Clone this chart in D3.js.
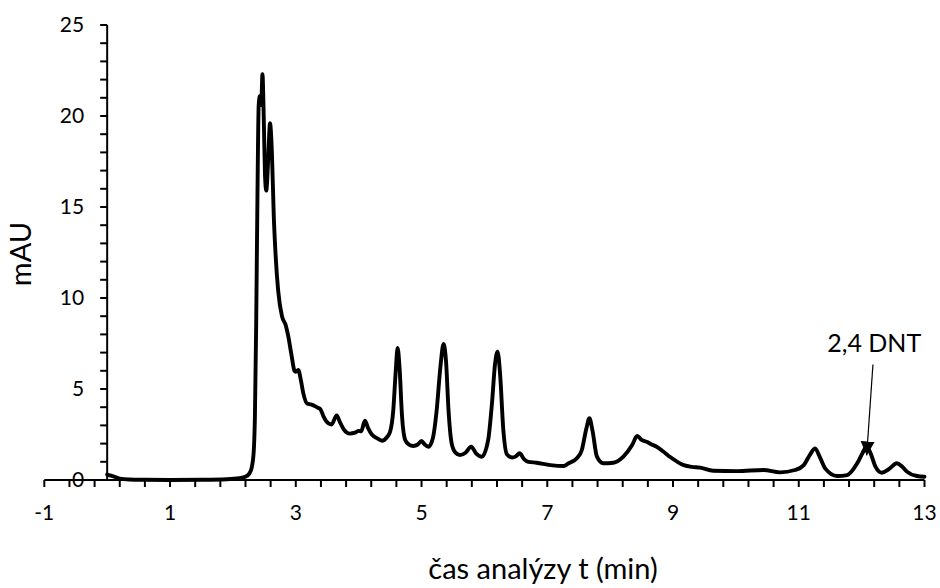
<!DOCTYPE html>
<html>
<head>
<meta charset="utf-8">
<script src="https://cdn.jsdelivr.net/npm/d3@7"></script>
<style>
  html, body { margin: 0; padding: 0; background: #fff; }
  svg { display: block; font-family: Lato, "Open Sans", sans-serif; }
</style>
</head>
<body>
<svg id="chart" width="940" height="588"></svg>
<script>
// Chromatogram: retention time (min) and detector signal (mAU)
const times = [
  0.00, 0.10, 0.20, 0.35, 0.60, 1.00, 1.50, 1.90, 2.10, 2.20,
  2.26, 2.30, 2.33, 2.35, 2.37, 2.39, 2.41, 2.43, 2.45, 2.47,
  2.49, 2.51, 2.53, 2.56, 2.59, 2.62, 2.65, 2.68, 2.72, 2.78,
  2.84, 2.88, 2.93, 2.98, 3.00, 3.04, 3.08, 3.12, 3.18, 3.24,
  3.30, 3.35, 3.39, 3.44, 3.48, 3.57, 3.65, 3.70, 3.76, 3.86,
  3.94, 4.00, 4.04, 4.10, 4.15, 4.21, 4.29, 4.37, 4.45, 4.50,
  4.55, 4.59, 4.62, 4.65, 4.69, 4.74, 4.80, 4.87, 4.94, 5.00,
  5.05, 5.11, 5.18, 5.24, 5.30, 5.35, 5.39, 5.43, 5.48, 5.54,
  5.61, 5.70, 5.79, 5.87, 5.96, 6.06, 6.12, 6.17, 6.21, 6.25,
  6.30, 6.36, 6.44, 6.50, 6.56, 6.63, 6.70, 6.83, 7.05, 7.26,
  7.34, 7.47, 7.55, 7.62, 7.67, 7.72, 7.79, 7.89, 8.05, 8.21,
  8.35, 8.43, 8.50, 8.58, 8.66, 8.74, 8.85, 8.95, 9.17, 9.30,
  9.43, 9.64, 10.02, 10.44, 10.70, 10.94, 11.08, 11.18, 11.26, 11.33,
  11.42, 11.61, 11.77, 11.93, 12.01, 12.08, 12.15, 12.22, 12.32, 12.43,
  12.56, 12.64, 12.72, 12.88, 13.00
];
const signal = [
  0.30, 0.20, 0.08, 0.03, 0.01, 0.00, 0.01, 0.04, 0.10, 0.18,
  0.35, 0.70, 1.50, 3.50, 8.50, 15.5, 20.6, 21.1, 20.6, 22.3,
  20.0, 16.8, 15.9, 17.5, 19.6, 18.0, 14.5, 12.3, 10.4, 9.00,
  8.50, 7.90, 6.90, 6.00, 5.95, 6.05, 5.50, 4.76, 4.20, 4.15,
  4.07, 3.97, 3.90, 3.50, 3.25, 3.05, 3.55, 3.20, 2.80, 2.55,
  2.60, 2.70, 2.68, 3.26, 2.85, 2.50, 2.30, 2.16, 2.35, 2.65,
  3.80, 6.00, 7.25, 6.20, 3.50, 2.20, 1.95, 1.87, 1.95, 2.14,
  1.95, 1.83, 2.30, 3.80, 6.20, 7.47, 6.50, 3.80, 2.00, 1.50,
  1.37, 1.50, 1.83, 1.45, 1.28, 2.20, 4.20, 6.40, 7.05, 5.80,
  2.80, 1.40, 1.24, 1.30, 1.47, 1.15, 1.00, 0.95, 0.82, 0.77,
  0.92, 1.19, 1.65, 2.80, 3.39, 2.70, 1.28, 0.92, 0.95, 1.28,
  1.92, 2.42, 2.20, 2.10, 1.95, 1.83, 1.55, 1.28, 0.82, 0.72,
  0.68, 0.51, 0.49, 0.55, 0.42, 0.55, 0.82, 1.40, 1.74, 1.30,
  0.64, 0.22, 0.27, 0.92, 1.45, 1.85, 1.40, 0.73, 0.40, 0.59,
  0.92, 0.75, 0.46, 0.22, 0.18
];

// Axis ticks
const xTickLabels = [-1, 1, 3, 5, 7, 9, 11, 13];
const yTickLabels = [0, 5, 10, 15, 20, 25];

// Annotated compound: name, retention time, arrow tip / tail values
const peakName = ["2,4 DNT"];
const peakTime = [12.08];
const arrowTip = [1.35];
const arrowTail = [6.35];
const labelAt = [12.2, 7.05];

const svg = d3.select("#chart");
const x = d3.scaleLinear().domain([-1, 13]).range([44.3, 924.5]);
const y = d3.scaleLinear().domain([0, 25]).range([480, 25]);

const axisColor = "#000";

// x axis (at mAU = 0), major ticks every 2, minor every 0.4
const xMinor = d3.range(0, 36).map(i => -1 + i * 0.4);
const gx = svg.append("g").attr("transform", `translate(0,${y(0)})`);
gx.append("line").attr("x1", x(-1)).attr("x2", x(13))
  .attr("stroke", axisColor).attr("stroke-width", 2);
gx.selectAll("line.tick").data(xMinor).join("line")
  .attr("class", "tick")
  .attr("x1", d => x(d)).attr("x2", d => x(d))
  .attr("y1", 0).attr("y2", 7)
  .attr("stroke", axisColor).attr("stroke-width", 2);
gx.selectAll("text").data(xTickLabels).join("text")
  .attr("x", d => x(d)).attr("y", 40)
  .attr("text-anchor", "middle")
  .attr("font-size", 21)
  .attr("fill", "#000")
  .text(d => d);

// y axis (at t = 0), ticks every 1, labels every 5
const yMinor = d3.range(0, 26);
const gy = svg.append("g").attr("transform", `translate(${x(0)},0)`);
gy.append("line").attr("y1", y(0)).attr("y2", y(25))
  .attr("stroke", axisColor).attr("stroke-width", 2);
gy.selectAll("line.tick").data(yMinor).join("line")
  .attr("class", "tick")
  .attr("y1", d => y(d)).attr("y2", d => y(d))
  .attr("x1", -7).attr("x2", 0)
  .attr("stroke", axisColor).attr("stroke-width", 2);
gy.selectAll("text").data(yTickLabels).join("text")
  .attr("x", -23).attr("y", d => y(d))
  .attr("dy", "0.35em")
  .attr("text-anchor", "end")
  .attr("font-size", 21)
  .attr("fill", "#000")
  .text(d => d);

// Axis titles
svg.append("text")
  .attr("x", 543).attr("y", 579)
  .attr("text-anchor", "middle")
  .attr("font-size", 29)
  .attr("fill", "#000")
  .text("čas analýzy t (min)");
svg.append("text")
  .attr("transform", "translate(31,254) rotate(-90)")
  .attr("text-anchor", "middle")
  .attr("font-size", 29)
  .attr("fill", "#000")
  .text("mAU");

// Signal trace
const pts = times.map((t, i) => [t, signal[i]]);
svg.append("path")
  .datum(pts)
  .attr("fill", "none")
  .attr("stroke", "#000")
  .attr("stroke-width", 3.9)
  .attr("stroke-linejoin", "round")
  .attr("stroke-linecap", "round")
  .attr("d", d3.line().x(d => x(d[0])).y(d => y(d[1])).curve(d3.curveMonotoneX));

// Peak annotation with arrow
svg.append("defs").append("marker")
  .attr("id", "arrowhead")
  .attr("viewBox", "0 0 10 10")
  .attr("refX", 10).attr("refY", 5)
  .attr("markerWidth", 14).attr("markerHeight", 15)
  .attr("markerUnits", "userSpaceOnUse")
  .attr("orient", "auto")
  .append("path").attr("d", "M0,0 L10,5 L0,10 Z").attr("fill", "#000");

const ann = svg.append("g");
ann.append("line")
  .attr("x1", x(peakTime[0] + 0.1)).attr("y1", y(arrowTail[0]))
  .attr("x2", x(peakTime[0])).attr("y2", y(arrowTip[0]))
  .attr("stroke", "#000").attr("stroke-width", 1.2)
  .attr("marker-end", "url(#arrowhead)");
ann.append("text")
  .attr("x", x(labelAt[0])).attr("y", y(labelAt[1]))
  .attr("text-anchor", "middle")
  .attr("font-size", 25)
  .attr("fill", "#000")
  .text(peakName[0]);
</script>
</body>
</html>
